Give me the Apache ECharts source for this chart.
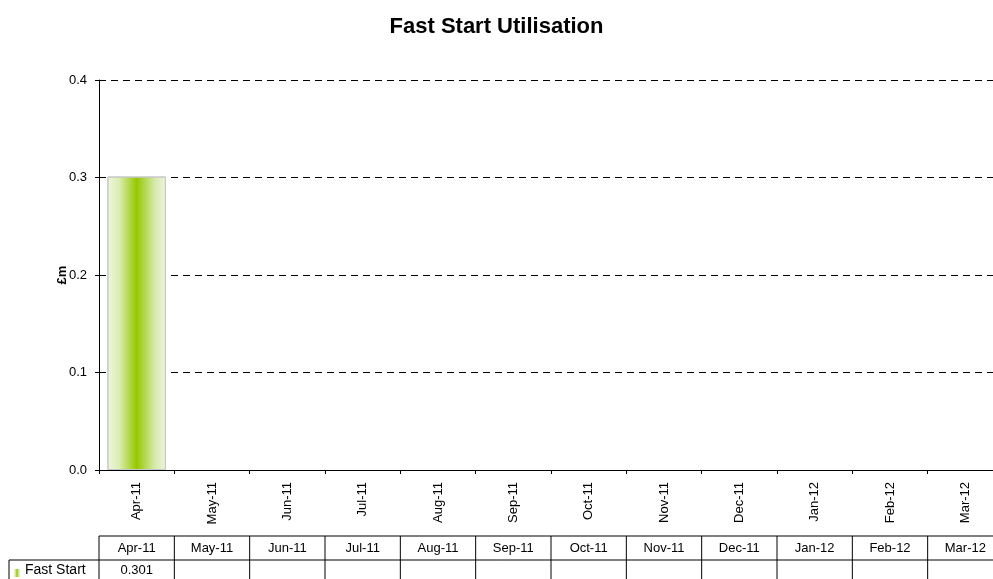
<!DOCTYPE html>
<html><head><meta charset="utf-8">
<script src="https://cdn.jsdelivr.net/npm/echarts@6/dist/echarts.min.js"></script>
<style>html,body{margin:0;padding:0;background:#fff}#c{width:993px;height:579px}</style>
</head><body><div id="c"></div>
<script>
const categories = ['Apr-11','May-11','Jun-11','Jul-11','Aug-11','Sep-11','Oct-11','Nov-11','Dec-11','Jan-12','Feb-12','Mar-12'];
const seriesName = 'Fast Start';
const fastStart = [0.301, null, null, null, null, null, null, null, null, null, null, null];
const yTicks = [0, 0.1, 0.2, 0.3, 0.4];

const FONT = '"Liberation Sans", Arial, sans-serif';
const chart = echarts.init(document.getElementById('c'));
const barGrad = new echarts.graphic.LinearGradient(0,0,1,0,[
  {offset:0,color:'#eef6dd'},{offset:0.2,color:'#dcedb5'},{offset:0.5,color:'#96c800'},{offset:0.8,color:'#d4e9a6'},{offset:1,color:'#eef6dd'}]);
const option = {
  animation:false,
  title:{text:'Fast Start Utilisation',left:'center',top:11,textStyle:{fontFamily:FONT,fontSize:22,fontWeight:'bold',color:'#000'}},
  grid:{left:99,top:80,width:904,height:390,containLabel:false,outerBoundsMode:'none'},
  xAxis:{type:'category',data:categories,
    axisLine:{lineStyle:{color:'#000',width:1}},
    axisTick:{show:true,length:4,lineStyle:{color:'#000'},alignWithLabel:false},
    axisLabel:{rotate:90,fontFamily:FONT,fontSize:13,color:'#000',margin:12,interval:0}},
  yAxis:{type:'value',min:yTicks[0],max:yTicks[yTicks.length-1],interval:0.1,
    name:'£m',nameLocation:'middle',nameGap:30,nameRotate:90,nameMoveOverlap:false,
    nameTextStyle:{fontFamily:FONT,fontSize:13,fontWeight:'bold',color:'#000'},
    axisLine:{show:true,lineStyle:{color:'#000'}},
    axisTick:{show:true,length:4,lineStyle:{color:'#000'}},
    axisLabel:{fontFamily:FONT,fontSize:13,color:'#000',margin:12,formatter:v=>v.toFixed(1)},
    splitLine:{show:true,lineStyle:{color:'#000',type:[7,5],width:1}}},
  series:[{name:seriesName,type:'bar',data:fastStart,barCategoryGap:'22.4%',
    itemStyle:{color:barGrad,borderColor:'#c8c8c8',borderWidth:1}}]
};
chart.setOption(option);

// data table below the axis, columns placed via the category scale
const els = [];
const hTop = 536, hBot = 560, rBot = 584;
const centers = categories.map(c => chart.convertToPixel({xAxisIndex:0}, c));
const half = (centers[1]-centers[0])/2;
const left = centers[0]-half, right = centers[centers.length-1]+half;
const line = (x1,y1,x2,y2) => els.push({type:'line',shape:{x1,y1,x2,y2},style:{stroke:'#000',lineWidth:1},silent:true});
line(left,hTop,right,hTop);
line(9,hBot,right,hBot);
line(9,rBot,right,rBot);
line(9,hBot,9,rBot);
centers.forEach((cx,i)=>{
  line(cx-half,hTop,cx-half,rBot);
  els.push({type:'text',x:cx,y:(hTop+hBot)/2,style:{text:categories[i],fontFamily:FONT,fontSize:13,fill:'#000',align:'center',verticalAlign:'middle'},silent:true});
  if (fastStart[i]!=null) els.push({type:'text',x:cx,y:(hBot+rBot)/2-2,style:{text:fastStart[i].toFixed(3),fontFamily:FONT,fontSize:13,fill:'#000',align:'center',verticalAlign:'middle'},silent:true});
});
line(right,hTop,right,rBot);
els.push({type:'rect',shape:{x:14,y:569,width:6,height:8},style:{fill:barGrad},silent:true});
els.push({type:'text',x:25,y:(hBot+rBot)/2-2,style:{text:seriesName,fontFamily:FONT,fontSize:14,fill:'#000',align:'left',verticalAlign:'middle'},silent:true});
chart.setOption({graphic:{elements:els}});
</script></body></html>
